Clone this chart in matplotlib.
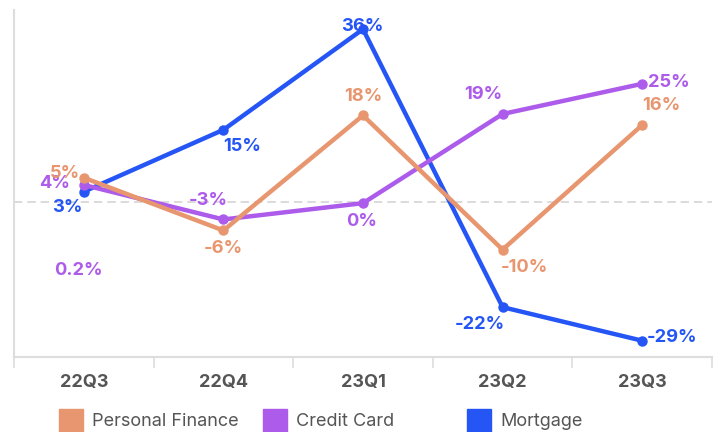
import matplotlib
matplotlib.use("Agg")
import matplotlib.pyplot as plt
from matplotlib.patches import Rectangle

plt.rcParams["font.family"] = ["Inter", "DejaVu Sans"]

quarters = ["22Q3", "22Q4", "23Q1", "23Q2", "23Q3"]
personal_finance = [5, -6, 18, -10, 16]
credit_card = [3.5, -3.7, -0.3, 18.3, 24.6]
mortgage = [2.1, 15, 36, -22, -29]

pf_labels = ["5%", "-6%", "18%", "-10%", "16%"]
cc_labels = ["4%", "-3%", "0%", "19%", "25%"]
mo_labels = ["3%", "15%", "36%", "-22%", "-29%"]
stray_label = "0.2%"
stray_value = -14.3

series_names = ["Personal Finance", "Credit Card", "Mortgage"]
colors = ["#E8966F", "#AC5BEA", "#2556F5"]

# label offsets in pixels (dx, dy), one per point
pf_offsets = [(-19, 4), (0, -18), (0, 19), (22, -18), (19, 20)]
cc_offsets = [(-29, 1), (-15, 19), (-1, -18), (-19, 20), (27, 1)]
mo_offsets = [(-16, -16), (19, -17), (-1, 3), (-23, -17), (30, 3)]

fig = plt.figure(figsize=(7.14, 4.32), dpi=100)
ax = fig.add_axes([14 / 714, 75 / 432, 698 / 714, 347 / 432])
x = list(range(len(quarters)))

ax.axhline(0, color="#d4d4d4", lw=1.2, ls=(0, (5, 3)), zorder=1)

series = [
    (mortgage, mo_labels, mo_offsets, colors[2], 3),
    (credit_card, cc_labels, cc_offsets, colors[1], 4),
    (personal_finance, pf_labels, pf_offsets, colors[0], 5),
]
for values, labels, offsets, color, z in series:
    ax.plot(x, values, color=color, lw=3.2, marker="o", ms=6.5, zorder=z,
            solid_capstyle="round")
    for xi, v, lab, off in zip(x, values, labels, offsets):
        ax.annotate(lab, (xi, v), xytext=off, textcoords="offset pixels",
                    ha="center", va="center", color=color, fontsize=13.2,
                    fontweight="bold", zorder=10)

ax.annotate(stray_label, (0, stray_value), xytext=(-5, 0),
            textcoords="offset pixels", ha="center", va="center",
            color=colors[1], fontsize=13.2, fontweight="bold")

ax.set_xlim(-0.5, len(quarters) - 0.5)
ax.set_ylim(-32.4, 40)
ax.set_yticks([])
ax.set_xticks(x)
ax.set_xticklabels(quarters, fontsize=13, fontweight="bold", color="#555555")
ax.set_xticks([i - 0.5 for i in range(len(quarters) + 1)], minor=True)
ax.tick_params(axis="x", which="major", length=0, pad=12)
ax.tick_params(axis="x", which="minor", length=8, width=1.2, color="#dddddd")
for side in ["top", "right"]:
    ax.spines[side].set_visible(False)
for side in ["left", "bottom"]:
    ax.spines[side].set_color("#dddddd")
    ax.spines[side].set_linewidth(1.5)

# legend drawn by hand
legend_x = [59, 263, 467]
for lx, name, color in zip(legend_x, series_names, colors):
    fig.patches.append(Rectangle((lx / 714, 0), 24 / 714, 23 / 432,
                                 transform=fig.transFigure, color=color))
    fig.text((lx + 33) / 714, 11 / 432, name, fontsize=13, color="#555555",
             va="center", ha="left")

fig.savefig("out.png", dpi=100)
